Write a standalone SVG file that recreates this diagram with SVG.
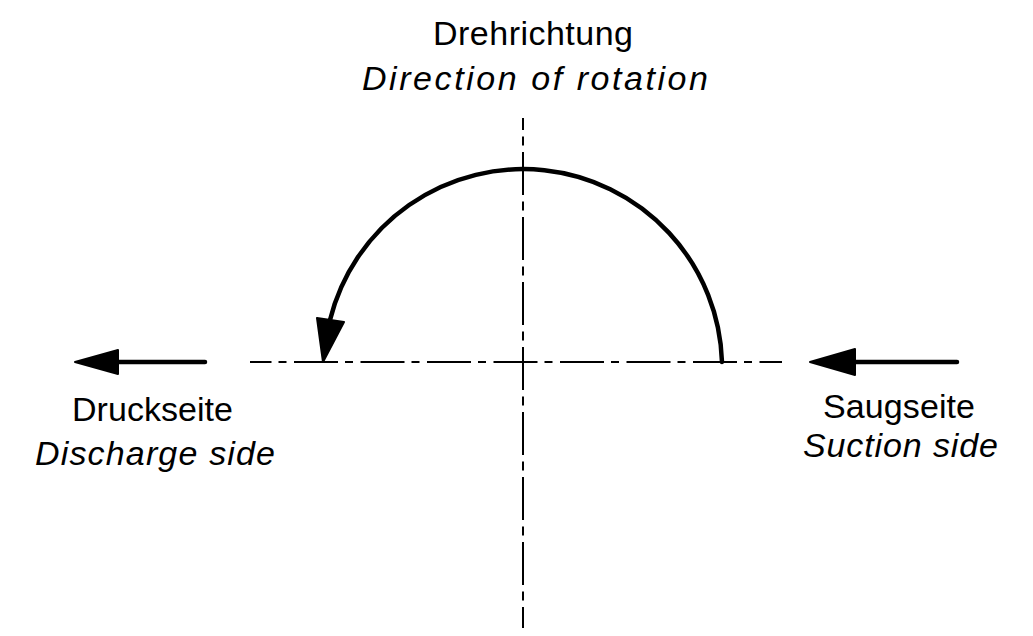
<svg xmlns="http://www.w3.org/2000/svg" width="1033" height="636" viewBox="0 0 1033 636">
<style>
.t{font-family:"Liberation Sans","DejaVu Sans",sans-serif;font-size:34px;fill:#000}
.i{font-style:italic}
.axis{stroke:#000;stroke-width:2;fill:none}
.thick{stroke:#000;stroke-width:4.5;fill:none;stroke-linecap:round}
.head{fill:#000;stroke:#000;stroke-width:2;stroke-linejoin:round}
</style>
<rect width="1033" height="636" fill="#fff"/>
<g id="axes">
<line class="axis" x1="250" y1="362" x2="782" y2="362" stroke-dasharray="44 7 8 7.5" stroke-dashoffset="22.5"/>
<line class="axis" x1="523" y1="118" x2="523" y2="628" stroke-dasharray="43 6.5 9 6.5" stroke-dashoffset="31"/>
</g>
<g id="connectors">
<path class="thick" d="M 722 362 A 199 199 0 0 0 330 320" stroke-linecap="butt"/>
<polygon class="head" points="323,362 317,318 344,322"/>
<line class="thick" x1="116" y1="362" x2="205" y2="362"/>
<polygon class="head" points="75,362 118,350 118,374"/>
<line class="thick" x1="853" y1="362" x2="957" y2="362"/>
<polygon class="head" points="810,362 855,349 855,375"/>
</g>
<g id="rotation-label">
<text class="t" x="433" y="45" textLength="200">Drehrichtung</text>
<text class="t i" x="362" y="90" textLength="346">Direction of rotation</text>
</g>
<g id="discharge-label">
<text class="t" x="72" y="421" textLength="161">Druckseite</text>
<text class="t i" x="35" y="465" textLength="240">Discharge side</text>
</g>
<g id="suction-label">
<text class="t" x="823" y="418" textLength="152">Saugseite</text>
<text class="t i" x="803" y="457" textLength="195">Suction side</text>
</g>
</svg>
